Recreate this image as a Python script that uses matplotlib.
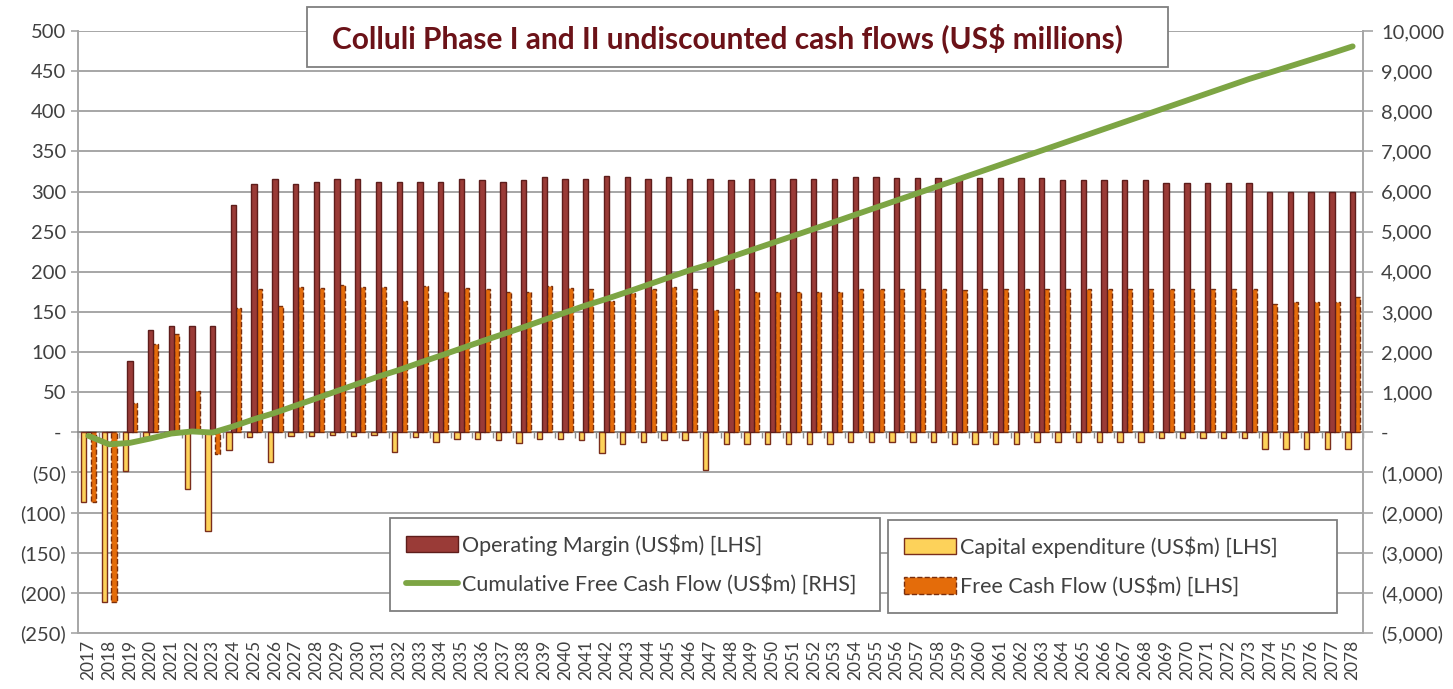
import numpy as np
import matplotlib
matplotlib.use("Agg")
import matplotlib.pyplot as plt
from matplotlib.ticker import FuncFormatter
from matplotlib.patches import Rectangle

plt.rcParams['font.family'] = ['Lato', 'DejaVu Sans']

years = list(range(2017, 2079))

# US$m (LHS)
operating_margin = [
    0, 0, 89, 127, 132, 132, 132, 283, 309, 315,
    309, 312, 316, 316, 312, 312, 312, 312, 315, 314,
    312, 314, 318, 316, 316, 319, 318, 316, 318, 316,
    316, 314, 316, 316, 316, 316, 316, 318, 318, 317,
    317, 317, 316, 317, 317, 317, 317, 314, 314, 314,
    314, 314, 311, 311, 311, 311, 311, 299, 299, 299,
    299, 299,
]
capex = [
    -87, -212, -48, -6, -2, -71, -123, -22, -6, -37,
    -5, -4, -3, -5, -3, -25, -6, -12, -8, -8,
    -10, -13, -8, -8, -10, -26, -14, -12, -10, -10,
    -47, -14, -14, -14, -14, -14, -14, -12, -12, -12,
    -12, -12, -14, -14, -14, -14, -12, -12, -12, -12,
    -12, -12, -7, -7, -7, -7, -7, -21, -21, -21,
    -21, -21,
]
free_cash_flow = [
    -87, -212, 36, 110, 123, 52, -27, 155, 178, 157,
    181, 180, 183, 181, 181, 164, 182, 175, 180, 179,
    175, 175, 182, 180, 179, 163, 173, 179, 181, 179,
    152, 179, 175, 175, 175, 175, 175, 179, 178, 178,
    178, 178, 177, 178, 178, 178, 178, 178, 178, 178,
    178, 178, 178, 178, 178, 178, 178, 160, 162, 162,
    162, 168,
]
# US$m (RHS)
cumulative_fcf = [
    -87, -299, -263, -153, -30, 22, -5, 150, 328, 485,
    666, 846, 1029, 1210, 1391, 1555, 1737, 1912, 2092, 2271,
    2446, 2621, 2803, 2983, 3162, 3325, 3498, 3677, 3858, 4037,
    4189, 4368, 4543, 4718, 4893, 5068, 5243, 5422, 5600, 5778,
    5956, 6134, 6311, 6489, 6667, 6845, 7023, 7201, 7379, 7557,
    7735, 7913, 8091, 8269, 8447, 8625, 8803, 8963, 9125, 9287,
    9449, 9617,
]

title = "Colluli Phase I and II undiscounted cash flows (US$ millions)"

om_col, om_edge = "#9A3B37", "#5E1D1B"
cap_col, cap_edge = "#FDD25A", "#7A2E1C"
fcf_col, fcf_edge = "#E46C0A", "#7A2E0C"
green = "#7DA544"
grid_col = "#A6A6A6"
text_col = "#404040"

W, H = 1453, 689
fig = plt.figure(figsize=(W / 100, H / 100), dpi=100)
ax = fig.add_axes([78 / W, 1 - 633 / H, (1363 - 78) / W, (633 - 31) / H])

x = np.arange(len(years))
bw = 0.26
b_cap = ax.bar(x - 0.22, capex, bw, color=cap_col, edgecolor=cap_edge, linewidth=1.0, zorder=3)
b_fcf = ax.bar(x + 0.24, free_cash_flow, bw, color=fcf_col, edgecolor=fcf_edge,
               linewidth=1.0, linestyle="--", zorder=3)
b_om = ax.bar(x, operating_margin, bw, color=om_col, edgecolor=om_edge, linewidth=1.0, zorder=4)

ax.set_xlim(-0.5, len(years) - 0.5)
ax.set_ylim(-250, 500)
ax.set_yticks(np.arange(-250, 501, 50))
ax.grid(axis="y", color=grid_col, linewidth=1.4)
ax.set_axisbelow(True)


def acct(v, pos=None):
    if abs(v) < 1e-9:
        return "- "
    if v < 0:
        return "({:,.0f})".format(-v)
    return "{:,.0f}".format(v)


ax.yaxis.set_major_formatter(FuncFormatter(acct))
ax.tick_params(axis="y", length=5, color=grid_col, width=1.2, labelsize=14.5, labelcolor=text_col)

# category axis sits on the zero line, labels at the bottom
ax.spines["bottom"].set_position(("data", 0))
ax.spines["bottom"].set_color("#8C8C8C")
ax.spines["bottom"].set_linewidth(1.4)
ax.set_xticks(x)
ax.set_xticks(np.arange(-0.5, len(years), 1), minor=True)
ax.tick_params(axis="x", which="major", length=0, labelbottom=False)
ax.tick_params(axis="x", which="minor", length=4, color="#8C8C8C", width=1.0)
secx = ax.secondary_xaxis("bottom")
secx.set_xticks(x, labels=[str(y) for y in years], rotation=90)
secx.tick_params(length=0, labelsize=12.5, labelcolor=text_col, pad=5)
secx.spines["bottom"].set_color(grid_col)
secx.spines["bottom"].set_linewidth(1.4)

for s in ["top", "right"]:
    ax.spines[s].set_visible(False)
ax.spines["left"].set_color(grid_col)
ax.spines["left"].set_linewidth(1.4)

ax2 = ax.twinx()
line_cum, = ax2.plot(x, cumulative_fcf, color=green, linewidth=4.2, solid_capstyle="round", zorder=5)
ax2.set_ylim(-5000, 10000)
ax2.set_yticks(np.arange(-5000, 10001, 1000))
ax2.yaxis.set_major_formatter(FuncFormatter(acct))
ax2.tick_params(axis="y", length=7, color=grid_col, width=1.2, labelsize=14.5,
                labelcolor=text_col, pad=6)
for s in ["top", "left", "bottom"]:
    ax2.spines[s].set_visible(False)
ax2.spines["right"].set_color(grid_col)
ax2.spines["right"].set_linewidth(1.4)

eps = 0.001
leg_kw = dict(loc="upper left", mode="expand", bbox_transform=fig.transFigure,
              frameon=True, fancybox=False, framealpha=1, edgecolor="#7F7F7F",
              fontsize=15.5, handlelength=2.4, handleheight=0.8, handletextpad=0.2,
              borderpad=0.75, labelspacing=0.85, labelcolor=text_col, borderaxespad=0)
leg1 = ax2.legend([b_om, line_cum],
                  ["Operating Margin (US$m) [LHS]", "Cumulative Free Cash Flow (US$m) [RHS]"],
                  bbox_to_anchor=(390 / W, 1 - 518 / H - eps, 490 / W, eps), **leg_kw)
leg1.get_frame().set_linewidth(1.3)
ax2.add_artist(leg1)
leg2 = ax2.legend([b_cap, b_fcf],
                  ["Capital expenditure (US$m) [LHS]", "Free Cash Flow (US$m) [LHS]"],
                  bbox_to_anchor=(888 / W, 1 - 520 / H - eps, 449 / W, eps), **leg_kw)
leg2.get_frame().set_linewidth(1.3)

# title box across the top of the plot area
fig.add_artist(Rectangle((307 / W, 1 - 67 / H), 861 / W, 60 / H, transform=fig.transFigure,
                         facecolor="white", edgecolor="#7F7F7F", linewidth=1.3, zorder=10))
fig.text(728 / W, 1 - 38 / H, title, ha="center", va="center", fontsize=21.5,
         fontweight="bold", color="#6B1218", zorder=11)

fig.savefig("out.png", dpi=100)
